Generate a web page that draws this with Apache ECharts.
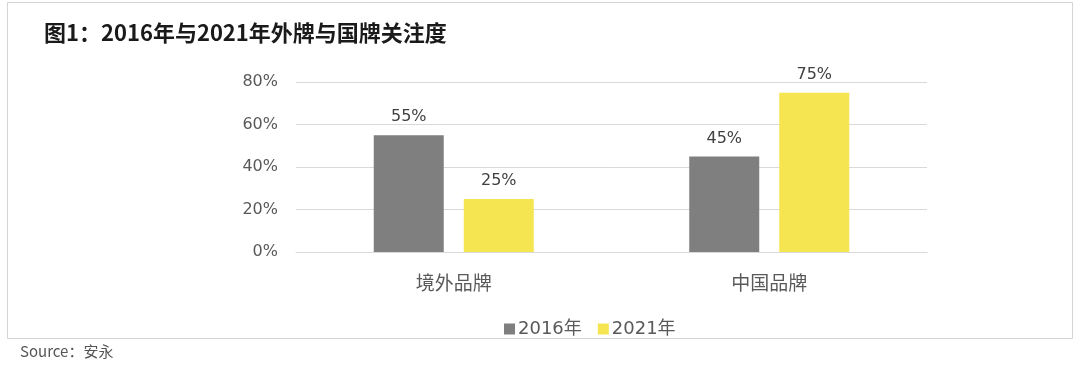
<!DOCTYPE html>
<html><head><meta charset="utf-8">
<script src="https://cdn.jsdelivr.net/npm/echarts@6/dist/echarts.min.js"></script>
<style>html,body{margin:0;padding:0;background:#fff}#c{width:1080px;height:372px}</style>
</head><body><div id="c"></div>
<script>
const categories = ['境外品牌', '中国品牌'];
const s2016 = [55, 45];
const s2021 = [25, 75];
const yTicks = ['0%', '20%', '40%', '60%', '80%'];
const titleText = '图1：2016年与2021年外牌与国牌关注度';
const sourceText = 'Source：安永';

const chart = echarts.init(document.getElementById('c'));
const numFont = 'DejaVu Sans, Noto Sans CJK SC, sans-serif';
const cjkFont = 'Noto Sans CJK SC, sans-serif';
chart.setOption({
  backgroundColor: '#fff',
  animation: false,
  title: {
    text: titleText, left: 39, top: 17,
    textStyle: { fontSize: 22, fontWeight: 'bold', color: '#1a1a1a', fontFamily: cjkFont }
  },
  graphic: [
    { type: 'rect', shape: { x: 7.5, y: 2.5, width: 1065, height: 336 }, style: { fill: 'none', stroke: '#d4d4d4', lineWidth: 1 }, z: -1 },
    { type: 'text', left: 20, top: 344, style: { text: sourceText, fontSize: 15, fill: '#555', fontFamily: cjkFont } }
  ],
  legend: {
    data: ['2016年', '2021年'], left: 499, top: 315, itemWidth: 11, itemHeight: 11, itemGap: 16,
    icon: 'rect',
    textStyle: { fontSize: 18, color: '#595959', fontFamily: numFont, padding: [0, 0, 0, -2] }
  },
  grid: { left: 296, right: 153, top: 82, bottom: 120 },
  xAxis: {
    type: 'category', data: categories,
    axisLine: { show: true, lineStyle: { color: '#d9d9d9' } },
    axisTick: { show: false },
    axisLabel: { fontSize: 19, color: '#595959', margin: 21, fontFamily: cjkFont }
  },
  yAxis: {
    type: 'value', min: 0, max: 80, interval: 20,
    axisLine: { show: false }, axisTick: { show: false },
    splitLine: { lineStyle: { color: '#d9d9d9', width: 1 } },
    axisLabel: { fontSize: 16, color: '#595959', margin: 18, fontFamily: numFont,
      formatter: v => yTicks[v / 20] }
  },
  series: [
    { name: '2016年', type: 'bar', data: s2016, barWidth: 70, barGap: '28.6%',
      itemStyle: { color: '#7f7f7f' },
      label: { show: true, position: 'top', distance: 10, formatter: '{c}%', fontSize: 16, color: '#404040', fontFamily: numFont } },
    { name: '2021年', type: 'bar', data: s2021, barWidth: 70,
      itemStyle: { color: '#f5e550' },
      label: { show: true, position: 'top', distance: 10, formatter: '{c}%', fontSize: 16, color: '#404040', fontFamily: numFont } }
  ]
});
</script></body></html>
